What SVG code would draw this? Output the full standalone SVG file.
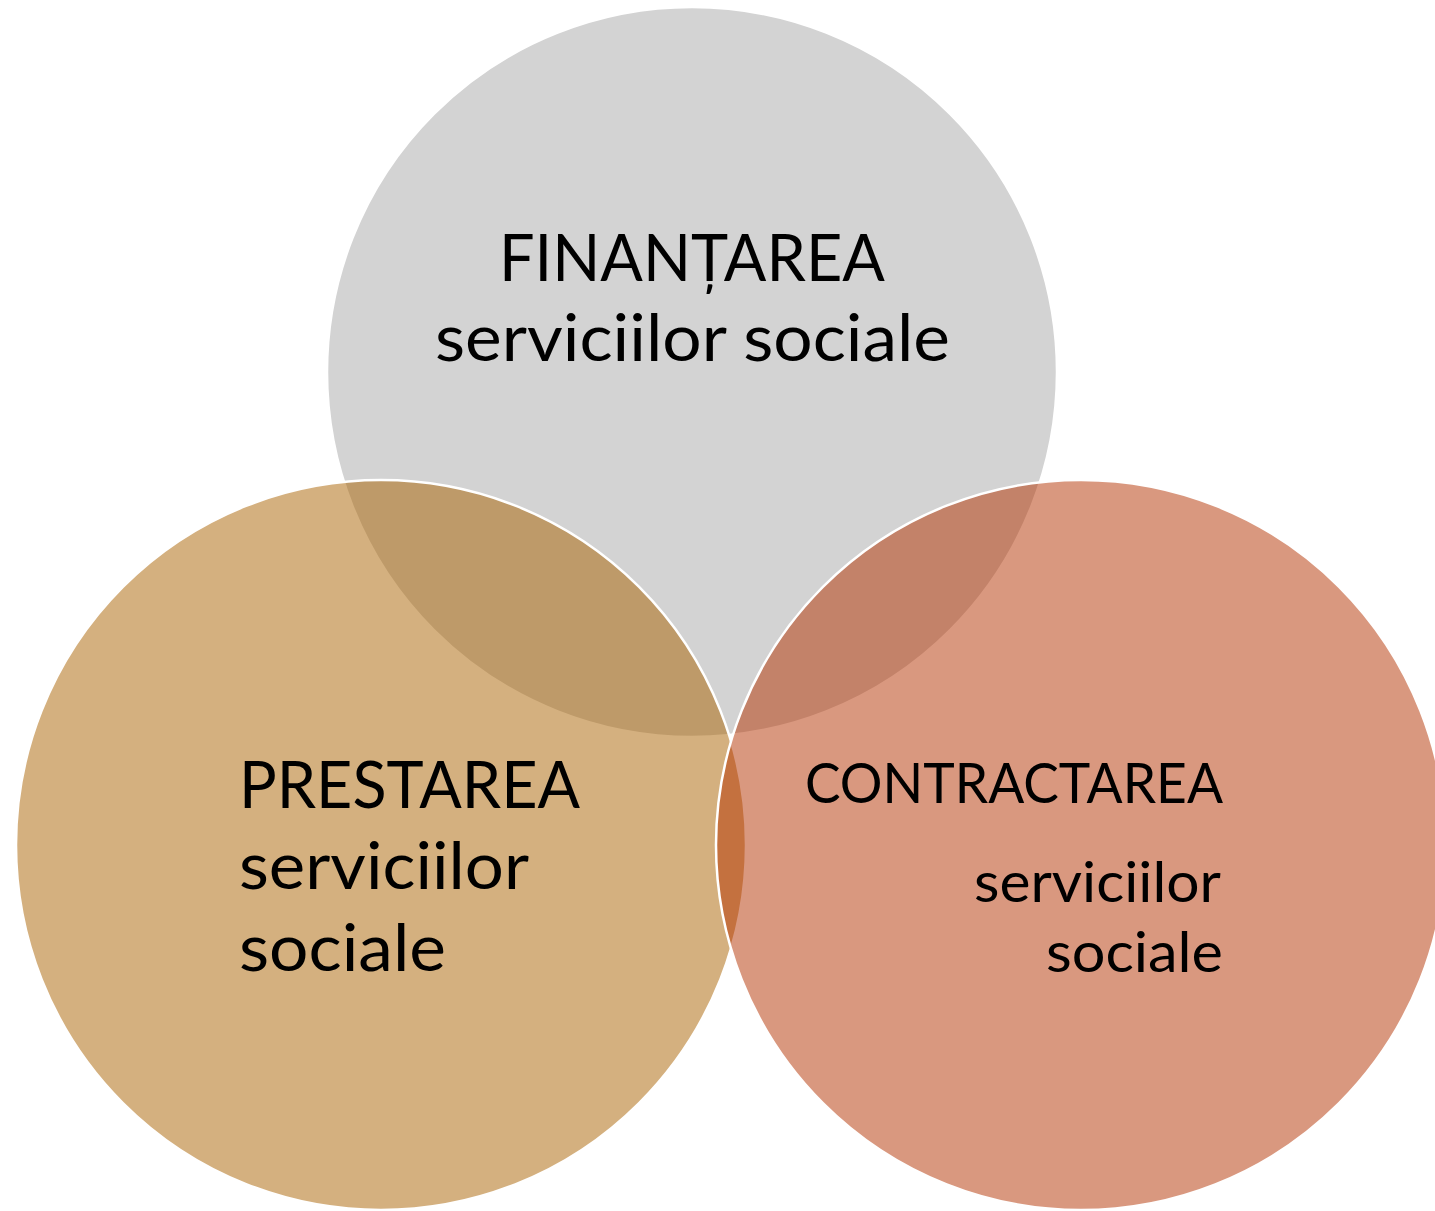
<svg xmlns="http://www.w3.org/2000/svg" width="1435" height="1211" viewBox="0 0 1435 1211">
<style>
.c{stroke:#ffffff;stroke-width:2.5}
.t{font-family:Lato,"Open Sans","Liberation Sans",sans-serif;fill:#000000}
.big{font-size:65px}
.sm{font-size:56px}
</style>
<rect width="1435" height="1211" fill="#ffffff"/>
<g id="connectors"></g>
<g id="node-finantarea">
<circle class="c" cx="692" cy="372" r="365" fill="#a7a7a7" fill-opacity="0.5"/>
<text class="t big" x="499" y="281" textLength="386" lengthAdjust="spacingAndGlyphs">FINANȚAREA</text>
<text class="t big" x="435" y="361" textLength="515" lengthAdjust="spacingAndGlyphs">serviciilor sociale</text>
</g>
<g id="node-prestarea">
<circle class="c" cx="381" cy="845" r="365" fill="#a96100" fill-opacity="0.5"/>
<text class="t big" x="239" y="808" textLength="341" lengthAdjust="spacingAndGlyphs">PRESTAREA</text>
<text class="t big" x="239" y="889" textLength="290" lengthAdjust="spacingAndGlyphs">serviciilor</text>
<text class="t big" x="239" y="971" textLength="207" lengthAdjust="spacingAndGlyphs">sociale</text>
</g>
<g id="node-contractarea">
<circle class="c" cx="1081" cy="845" r="365" fill="#b33100" fill-opacity="0.5"/>
<text class="t sm" x="805" y="803" textLength="418" lengthAdjust="spacingAndGlyphs">CONTRACTAREA</text>
<text class="t sm" x="974" y="902" textLength="247" lengthAdjust="spacingAndGlyphs">serviciilor</text>
<text class="t sm" x="1046" y="972" textLength="177" lengthAdjust="spacingAndGlyphs">sociale</text>
</g>
</svg>
